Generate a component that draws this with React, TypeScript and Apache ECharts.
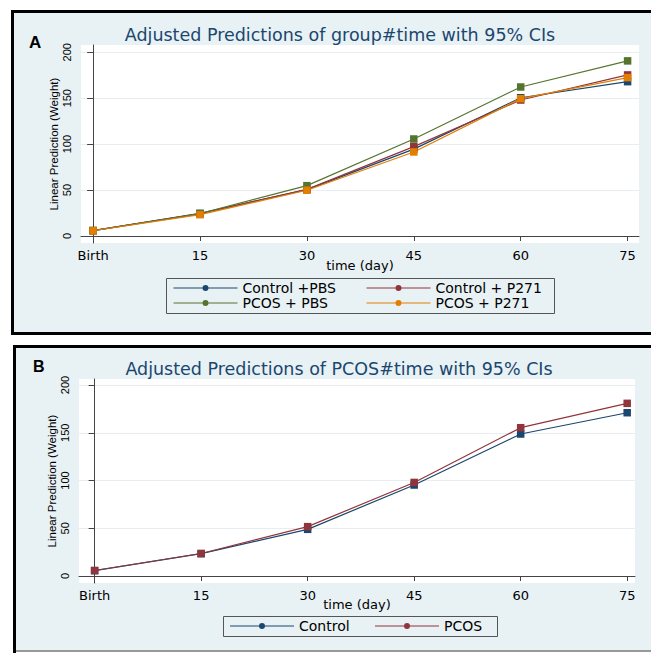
import React, { useEffect, useRef } from "react";
import * as echarts from "echarts";

// ---- data ----
const days = [0, 15, 30, 45, 60, 75];
const dayLabels = ["Birth", "15", "30", "45", "60", "75"];
const yTicks = [0, 50, 100, 150, 200];

// Panel A: group#time
const controlPBS = [5.8, 24.6, 50.5, 94.6, 150.5, 168.0];
const controlP271 = [5.9, 24.2, 50.8, 97.3, 148.0, 175.3];
const pcosPBS = [6.0, 24.5, 54.8, 105.6, 162.2, 190.6];
const pcosP271 = [5.7, 23.2, 49.8, 91.5, 149.5, 172.4];
const ciHalfA = [1.0, 1.2, 1.5, 2.0, 2.5, 2.8];

// Panel B: PCOS#time
const controlB = [5.6, 23.4, 48.9, 95.3, 148.7, 171.0];
const pcosB = [5.8, 23.6, 51.7, 98.0, 155.3, 180.8];
const ciHalfB = [0.8, 0.9, 1.1, 1.4, 1.8, 2.0];

const NAVY = "#1a476f";
const MAROON = "#90353b";
const GREEN = "#55752f";
const ORANGE = "#e37e00";
const BG = "#e8f1f4";

const FONT = "DejaVu Sans";
const NARROW = "Liberation Sans";

const legendIcon =
  "path://M0,2.5H64V3.5H0Z M29,3A3,3,0,1,1,35,3A3,3,0,1,1,29,3Z";

function lineSeries(name: string, vals: number[], color: string, idx: number) {
  return {
    type: "line",
    name,
    xAxisIndex: idx,
    yAxisIndex: idx,
    data: days.map((d, i) => [d, vals[i]]),
    symbol: "rect",
    symbolSize: 7.5,
    color,
    lineStyle: { width: 1.2, color },
    itemStyle: { color },
    z: 3,
  };
}

function ciSeries(vals: number[], half: number[], color: string, idx: number) {
  return {
    type: "custom",
    name: "ci" + color + idx,
    xAxisIndex: idx,
    yAxisIndex: idx,
    data: days.map((d, i) => [d, vals[i] - half[i], vals[i] + half[i]]),
    encode: { x: 0, y: [1, 2] },
    z: 2,
    renderItem: (params: any, api: any) => {
      const x = api.value(0);
      const p1 = api.coord([x, api.value(1)]);
      const p2 = api.coord([x, api.value(2)]);
      const w = 3;
      const st = { stroke: color, lineWidth: 1 };
      return {
        type: "group",
        children: [
          { type: "line", shape: { x1: p1[0], y1: p1[1], x2: p2[0], y2: p2[1] }, style: st },
          { type: "line", shape: { x1: p1[0] - w, y1: p1[1], x2: p1[0] + w, y2: p1[1] }, style: st },
          { type: "line", shape: { x1: p2[0] - w, y1: p2[1], x2: p2[0] + w, y2: p2[1] }, style: st },
        ],
      };
    },
  };
}

function xAxis(idx: number, min: number, max: number, gap: number) {
  return {
    type: "value",
    gridIndex: idx,
    min,
    max,
    name: "time (day)",
    nameLocation: "middle",
    nameGap: gap,
    nameMoveOverlap: false,
    nameTextStyle: { fontFamily: FONT, fontSize: 13, color: "#000", verticalAlign: "top" },
    axisLine: { show: true, lineStyle: { color: "#444", width: 1 } },
    axisTick: { show: true, length: 5, customValues: days, lineStyle: { color: "#444" } },
    axisLabel: {
      customValues: days,
      margin: 6,
      fontFamily: FONT,
      fontSize: 13,
      color: "#000",
      formatter: (v: number) => dayLabels[days.indexOf(v)] ?? String(v),
    },
    splitLine: { show: false },
  };
}

function yAxis(idx: number, min: number, max: number) {
  return {
    type: "value",
    gridIndex: idx,
    min,
    max,
    name: "Linear Prediction (Weight)",
    nameLocation: "middle",
    nameGap: 21,
    nameMoveOverlap: false,
    nameTextStyle: { fontFamily: NARROW, fontSize: 11.5, color: "#000" },
    axisLine: { show: true, lineStyle: { color: "#444", width: 1 } },
    axisTick: { show: true, length: 6, customValues: yTicks, lineStyle: { color: "#444" } },
    axisLabel: {
      customValues: yTicks,
      rotate: 90,
      margin: 9,
      fontFamily: NARROW,
      fontSize: 11,
      color: "#000",
    },
    splitLine: { show: true, lineStyle: { color: "#e6eef1", width: 1 } },
  };
}

function legendItem(name: string, left: number, top: number) {
  return {
    data: [name],
    left,
    top,
    padding: 0,
    itemWidth: 64,
    itemHeight: 6,
    icon: legendIcon,
    selectedMode: false,
    textStyle: { fontFamily: FONT, fontSize: 14, color: "#000" },
  };
}

export default function App() {
  const ref = useRef<HTMLDivElement>(null);
  useEffect(() => {
    if (!ref.current) return;
    const chart = echarts.init(ref.current, null, { renderer: "svg" });
    chart.setOption({
      animation: false,
      backgroundColor: "#fff",
      graphic: [
        { type: "rect", z: -100, shape: { x: 12.5, y: 11.5, width: 660, height: 322 }, style: { fill: BG } },
        { type: "polyline", z: 10, shape: { points: [[660, 11.5], [12.5, 11.5], [12.5, 333.5], [660, 333.5]] }, style: { stroke: "#000", lineWidth: 3, fill: null } },
        { type: "rect", z: -100, shape: { x: 14.5, y: 346.5, width: 660, height: 304 }, style: { fill: BG } },
        { type: "polyline", z: 10, shape: { points: [[660, 346.5], [14.5, 346.5], [14.5, 660]] }, style: { stroke: "#000", lineWidth: 3, fill: null } },
        { type: "line", z: 10, shape: { x1: 16, y1: 651, x2: 660, y2: 651 }, style: { stroke: "#999", lineWidth: 2 } },
        { type: "rect", z: 10, shape: { x: 166.5, y: 278.5, width: 388, height: 35 }, style: { stroke: "#555", lineWidth: 1, fill: null } },
        { type: "rect", z: 10, shape: { x: 223.5, y: 616.5, width: 274, height: 20 }, style: { stroke: "#555", lineWidth: 1, fill: null } },
      ],
      title: [
        { text: "A", left: 24, top: 29, textStyle: { fontFamily: "Liberation Sans", fontWeight: "bold", fontSize: 17, color: "#000" } },
        { text: "B", left: 28, top: 353, textStyle: { fontFamily: "Liberation Sans", fontWeight: "bold", fontSize: 16, color: "#000" } },
        { text: "Adjusted Predictions of group#time with 95% CIs", left: 340, top: 26, textAlign: "center", padding: 0, textStyle: { fontFamily: FONT, fontWeight: "normal", fontSize: 17.5, color: NAVY } },
        { text: "Adjusted Predictions of PCOS#time with 95% CIs", left: 339, top: 360, textAlign: "center", padding: 0, textStyle: { fontFamily: FONT, fontWeight: "normal", fontSize: 17.5, color: NAVY } },
      ],
      legend: [
        legendItem("Control +PBS", 173.5, 281),
        legendItem("Control + P271", 366.5, 281),
        legendItem("PCOS + PBS", 173.5, 296),
        legendItem("PCOS + P271", 366.5, 296),
        legendItem("Control", 230, 619),
        legendItem("PCOS", 375, 619),
      ],
      grid: [
        { left: 81, right: 12, top: 45, bottom: 410, show: true, backgroundColor: "#fff", borderWidth: 0 },
        { left: 79, right: 16, top: 379, bottom: 70, show: true, backgroundColor: "#fff", borderWidth: 0 },
      ],
      xAxis: [xAxis(0, -1.7, 76.6, 16), xAxis(1, -2.2, 76.1, 15)],
      yAxis: [yAxis(0, -7.6, 207.9), yAxis(1, -7.3, 206.3)],
      series: [
        ciSeries(controlPBS, ciHalfA, NAVY, 0),
        ciSeries(controlP271, ciHalfA, MAROON, 0),
        ciSeries(pcosPBS, ciHalfA, GREEN, 0),
        ciSeries(pcosP271, ciHalfA, ORANGE, 0),
        lineSeries("Control +PBS", controlPBS, NAVY, 0),
        lineSeries("Control + P271", controlP271, MAROON, 0),
        lineSeries("PCOS + PBS", pcosPBS, GREEN, 0),
        lineSeries("PCOS + P271", pcosP271, ORANGE, 0),
        ciSeries(controlB, ciHalfB, NAVY, 1),
        ciSeries(pcosB, ciHalfB, MAROON, 1),
        lineSeries("Control", controlB, NAVY, 1),
        lineSeries("PCOS", pcosB, MAROON, 1),
      ],
    });
    return () => chart.dispose();
  }, []);
  return (
    <div
      ref={ref}
      style={{ position: "fixed", left: 0, top: 0, width: 651, height: 653 }}
    />
  );
}
